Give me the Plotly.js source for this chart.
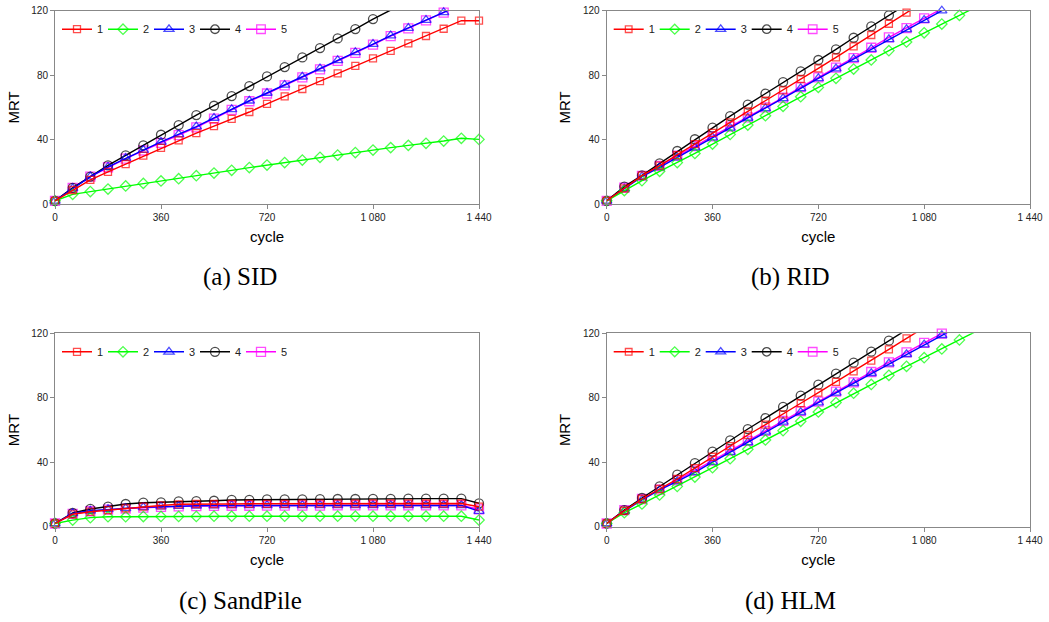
<!DOCTYPE html>
<html>
<head>
<meta charset="utf-8">
<script src="https://cdn.plot.ly/plotly-3.0.1.min.js"></script>
<style>html,body{margin:0;padding:0;background:#fff;}#chart{width:1049px;height:622px;}</style>
</head>
<body>
<div id="chart"></div>
<script>
// ---- data ----
const cycles = [0,60,120,180,240,300,360,420,480,540,600,660,720,780,840,900,960,1020,1080,1140,1200,1260,1320,1380,1440];
const seriesNames = ["1","2","3","4","5"];
const xTickVals = [0,360,720,1080,1440];
const xTickText = ["0","360","720","1 080","1 440"];
const yTickVals = [0,40,80,120];
const panelCaptions = ["(a) SID","(b) RID","(c) SandPile","(d) HLM"];

// (a) SID
const sid1 = [2,8.7,15,20,24.8,30,34.8,39.5,44,48.4,52.8,57.1,62.1,66.8,71.4,76.3,81.1,85.7,90.4,95,99.7,104.3,108.8,113.8,113.8];
const sid2 = [2,6,7.7,9.3,11.2,12.8,14.3,15.7,17.6,19.2,20.9,22.6,24.2,25.7,27.3,29,30.4,31.9,33.5,35,36.4,37.7,39.1,40.8,40.1];
const sid3 = [2,9.7,17,23,28.5,33.5,38.5,43.2,48,53.4,58.8,64.1,68.9,73.9,79,84,89.2,94.1,99.3,104.5,109.2,114.2,119,124];
const sid4 = [2,10,17,24,30.2,36.4,43,49,55.2,61,67,73.2,79.2,85,91,96.8,102.8,108.6,114.8,120.4,126.5];
const sid5 = [2,10,17,22.8,28.2,33.2,38,42.8,47.6,53,58.4,63.8,68.6,73.6,78.6,83.6,88.8,93.8,99,104.2,109,114,118.8,123.8];

// (b) RID
const rid1 = [2,9.7,17.6,23.8,30.4,37.2,44.1,50.7,57.5,64.1,70.6,77.6,84.2,91,97.9,104.9,111.9,118.8,125.7];
const rid2 = [2,8.3,14.5,20.3,25.7,31.4,37.2,43.2,49,54.8,60.6,66.6,72.4,78,83.8,89.4,95.2,100.6,106.3,111.7,117.1,122.6];
const rid3 = [2,9.5,17,22.8,28.8,35,41.2,47.2,53.4,59.4,65.6,71.8,78,84,90,96.2,102.2,108.4,114.2,120,126];
const rid4 = [2,10.8,17.8,25.2,32.9,40.2,47.4,54.6,61.7,68.5,75.7,82.3,89.4,96,103.2,110.3,117.1,124];
const rid5 = [2,10.1,17.4,23.6,30,36,42,48,53.8,60,66,72.6,78.6,84.6,90.6,97,103.4,109.2,115.2,121.2];

// (c) SandPile
const sand1 = [2,7.7,9.3,10.3,11.4,12.4,13.2,13.9,14.1,14.1,14.1,14.2,14.2,14.2,14.3,14.3,14.3,14.3,14.4,14.4,14.4,14.4,14.4,14.4,12.4];
const sand2 = [2,4.1,5.6,6.2,6.2,6.3,6.4,6.4,6.4,6.5,6.5,6.5,6.5,6.5,6.5,6.5,6.5,6.5,6.5,6.5,6.5,6.5,6.5,6.5,4.1];
const sand3 = [2,8.3,9.9,10.8,11.4,12,12.4,12.8,13,13.1,13.2,13.2,13.2,13.2,13.2,13.2,13.2,13.2,13.2,13.2,13.2,13.2,13.2,13.2,9.7];
const sand4 = [2,8.5,11,12.4,14.1,14.9,15.1,15.7,15.9,16.1,16.6,16.7,16.9,17,17,17.1,17.2,17.2,17.3,17.3,17.4,17.4,17.4,17.4,14.5];
const sand5 = [2,8,9.6,10.6,11.2,11.8,12.3,12.6,12.8,12.9,13,13,13.1,13.1,13.1,13.1,13.2,13.2,13.2,13.2,13.2,13.2,13.2,13.2,10.8];

// (d) HLM
const hlm1 = [2,9.9,17.2,23.4,29.6,36.4,43.4,50,56.9,63.3,69.7,76.6,83.2,89.8,96.4,103,110,116.9,123.5];
const hlm2 = [2,8.7,14.1,19.7,25,30.8,36.6,42.2,48,53.8,59.6,65.4,71.2,77,82.8,88.3,93.9,99.5,104.9,110.3,115.9,121.5];
const hlm3 = [2,9.7,16.6,22.8,28.1,33.7,40.1,46.3,52.3,58.8,65,71,77,83,89,95.2,101.2,107,113,118.8,124.6];
const hlm4 = [2,10.3,17.8,25,32.3,39.5,46.6,53.6,60.6,67.4,74.3,81.3,88.1,95,101.8,108.6,115.4,122.2];
const hlm5 = [2,10.3,17.2,23,28.8,34.8,41,47.2,53.2,59.4,65.6,71.7,77.6,83.8,89.6,96,102,108.2,114,119.8,125.6];

// ---- styles ----
const styles = [
  {color:"#ff0000", symbol:"square-open", size:7},
  {color:"#00ff00", symbol:"diamond-open", size:8},
  {color:"#0000ff", symbol:"triangle-up-open", size:9},
  {color:"#000000", symbol:"circle-open", size:9},
  {color:"#ff00ff", symbol:"square-open", size:9}
];
const panels = [
  {data:[sid1,sid2,sid3,sid4,sid5], xa:"x", ya:"y", legend:"legend"},
  {data:[rid1,rid2,rid3,rid4,rid5], xa:"x2", ya:"y2", legend:"legend2"},
  {data:[sand1,sand2,sand3,sand4,sand5], xa:"x3", ya:"y3", legend:"legend3"},
  {data:[hlm1,hlm2,hlm3,hlm4,hlm5], xa:"x4", ya:"y4", legend:"legend4"}
];
const W = 1049, H = 622;
const dom = {
  xl:[55/W, 479/W], xr:[606.7/W, 1030/W],
  yt:[1-204/H, 1-10.7/H], yb:[1-526.7/H, 1-333.3/H]
};
const YMAX = 120;
const drawOrder = [4,3,2,1,0]; // series 1 drawn on top

const traces = [];
panels.forEach((p) => {
  drawOrder.forEach((i) => {
    const vals = p.data[i];
    const st = styles[i];
    traces.push({
      type:"scatter", mode:"lines+markers",
      x: cycles.slice(0, vals.length), y: vals,
      xaxis:p.xa, yaxis:p.ya, legend:p.legend,
      name: seriesNames[i],
      cliponaxis:false,
      line:{color:st.color, width:1.4},
      marker:{symbol:st.symbol, color:st.color,
        size: vals.map(v => v > YMAX + 0.6 ? 0 : st.size),
        line:{color:st.color, width:1.3}},
      hoverinfo:"x+y+name"
    });
  });
});

const axisFont = {family:"Liberation Sans, Arial, sans-serif", size:10, color:"#222"};
const titleFont = {family:"Liberation Sans, Arial, sans-serif", size:15, color:"#000"};
function xAxis(domain, anchor){
  return {domain, anchor, range:[0,1440], tickvals:xTickVals, ticktext:xTickText,
    ticks:"outside", ticklen:4, tickcolor:"#888", showline:true, linecolor:"#888", linewidth:1,
    mirror:true, showgrid:false, zeroline:false, tickfont:axisFont,
    title:{text:"cycle", font:titleFont, standoff:9}, fixedrange:true};
}
function yAxis(domain, anchor){
  return {domain, anchor, range:[0,YMAX], tickvals:yTickVals,
    ticks:"outside", ticklen:4, tickcolor:"#888", showline:true, linecolor:"#888", linewidth:1,
    mirror:true, showgrid:false, zeroline:false, tickfont:axisFont,
    title:{text:"MRT", font:titleFont, standoff:8}, fixedrange:true};
}
function legendAt(xd, yd){
  return {orientation:"h", x:xd[0]+2/W, xanchor:"left", y:yd[1]-4/H, yanchor:"top",
    bgcolor:"rgba(0,0,0,0)", borderwidth:0, itemwidth:30, entrywidth:1, traceorder:"reversed",
    font:{family:"Liberation Sans, Arial, sans-serif", size:11, color:"#222"}};
}
const capFont = {family:"Liberation Serif, Times New Roman, serif", size:25, color:"#000"};
const layout = {
  width:W, height:H, margin:{l:0,r:0,t:0,b:0},
  paper_bgcolor:"#fff", plot_bgcolor:"#fff", showlegend:true,
  xaxis:xAxis(dom.xl,"y"), yaxis:yAxis(dom.yt,"x"),
  xaxis2:xAxis(dom.xr,"y2"), yaxis2:yAxis(dom.yt,"x2"),
  xaxis3:xAxis(dom.xl,"y3"), yaxis3:yAxis(dom.yb,"x3"),
  xaxis4:xAxis(dom.xr,"y4"), yaxis4:yAxis(dom.yb,"x4"),
  legend:legendAt(dom.xl, dom.yt), legend2:legendAt(dom.xr, dom.yt),
  legend3:legendAt(dom.xl, dom.yb), legend4:legendAt(dom.xr, dom.yb),
  annotations:[
    {text:panelCaptions[0], x:240/W, y:1-277/H},
    {text:panelCaptions[1], x:790/W, y:1-277/H},
    {text:panelCaptions[2], x:240/W, y:1-601/H},
    {text:panelCaptions[3], x:790/W, y:1-601/H}
  ].map(a => Object.assign(a, {xref:"paper", yref:"paper", xanchor:"center", yanchor:"middle", showarrow:false, font:capFont}))
};
Plotly.newPlot("chart", traces, layout, {displayModeBar:false, staticPlot:true});
</script>
</body>
</html>
